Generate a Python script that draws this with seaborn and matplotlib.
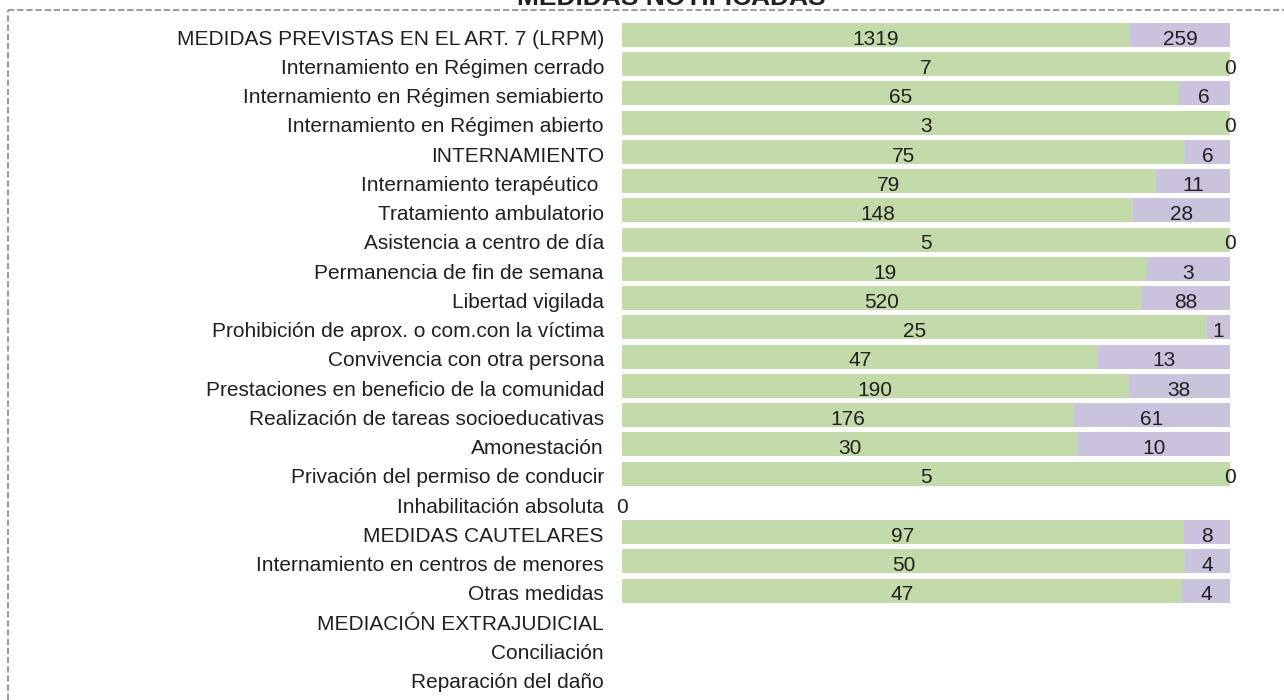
import matplotlib
matplotlib.use('Agg')
import matplotlib.pyplot as plt
from matplotlib.lines import Line2D
from matplotlib.transforms import ScaledTranslation
import seaborn as sns
import pandas as pd
import numpy as np

# data
medidas = [
    'MEDIDAS PREVISTAS EN EL ART. 7 (LRPM)',
    'Internamiento en Régimen cerrado',
    'Internamiento en Régimen semiabierto',
    'Internamiento en Régimen abierto',
    'INTERNAMIENTO',
    'Internamiento terapéutico ',
    'Tratamiento ambulatorio',
    'Asistencia a centro de día',
    'Permanencia de fin de semana',
    'Libertad vigilada',
    'Prohibición de aprox. o com.con la víctima',
    'Convivencia con otra persona',
    'Prestaciones en beneficio de la comunidad',
    'Realización de tareas socioeducativas',
    'Amonestación',
    'Privación del permiso de conducir',
    'Inhabilitación absoluta',
    'MEDIDAS CAUTELARES',
    'Internamiento en centros de menores',
    'Otras medidas',
    'MEDIACIÓN EXTRAJUDICIAL',
    'Conciliación',
    'Reparación del daño',
]
serie_verde = [1319, 7, 65, 3, 75, 79, 148, 5, 19, 520, 25, 47, 190, 176, 30, 5, 0,
               97, 50, 47, np.nan, np.nan, np.nan]
serie_morada = [259, 0, 6, 0, 6, 11, 28, 0, 3, 88, 1, 13, 38, 61, 10, 0, 0,
                8, 4, 4, np.nan, np.nan, np.nan]

VERDE = '#c3daaa'
MORADO = '#cbc2de'
TEXTO = '#231f20'
FS = 15

df = pd.DataFrame({'medida': medidas, 'verde': serie_verde, 'morado': serie_morada})
df['total'] = df['verde'] + df['morado']
df['p_verde'] = df['verde'] / df['total'].replace(0, np.nan)
df['p_total'] = df['total'] / df['total'].replace(0, np.nan)

sns.set_theme(style='white')
plt.rcParams['font.family'] = ['Liberation Sans', 'DejaVu Sans']

fig = plt.figure(figsize=(12.84, 7), dpi=100)
ax = fig.add_axes([622 / 1284, 0.0099, (1230 - 622) / 1284, 0.961])

# 100% stacked bars: purple full length underneath, green share on top
sns.barplot(data=df, x='p_total', y='medida', order=medidas, color=MORADO,
            width=0.82, errorbar=None, saturation=1, edgecolor='none', ax=ax)
sns.barplot(data=df, x='p_verde', y='medida', order=medidas, color=VERDE,
            width=0.82, errorbar=None, saturation=1, edgecolor='none', ax=ax)

# text baseline sits a bit below the row centre
bajar = ScaledTranslation(0, -6.9 / 72, fig.dpi_scale_trans)
for i, row in df.iterrows():
    if np.isnan(row['total']):
        continue
    if row['total'] == 0:
        ax.text(0, i, '0', ha='center', va='baseline', fontsize=FS, color=TEXTO,
                transform=ax.transData + bajar)
        continue
    pv = row['p_verde']
    ax.text(pv / 2, i, f"{int(row['verde'])}", ha='center', va='baseline',
            fontsize=FS, color=TEXTO, transform=ax.transData + bajar)
    ax.text((pv + 1) / 2, i, f"{int(row['morado'])}", ha='center', va='baseline',
            fontsize=FS, color=TEXTO, transform=ax.transData + bajar)

ax.set_xlim(0, 1)
ax.set_ylim(len(medidas) - 0.5, -0.5)
ax.set_xlabel('')
ax.set_ylabel('')
ax.set_xticks([])
ax.tick_params(axis='y', length=0, pad=13, labelsize=FS, labelcolor=TEXTO)
for lab in ax.get_yticklabels():
    lab.set_va('baseline')
    lab.set_transform(lab.get_transform() + bajar)
sns.despine(ax=ax, left=True, bottom=True)

# dashed frame, only top and left edges are visible
W, H = 1284, 700
borde = dict(color='#9d9d9e', lw=1.5, linestyle=(0, (3, 1.4)), transform=fig.transFigure)
fig.add_artist(Line2D([8 / W, 1], [1 - 10 / H, 1 - 10 / H], **borde))
fig.add_artist(Line2D([8 / W, 8 / W], [0, 1 - 10 / H], **borde))

fig.text(671 / W, 1 - 5 / H, 'MEDIDAS NOTIFICADAS', ha='center', va='baseline',
         fontsize=19, fontweight='bold', color=TEXTO)

plt.savefig('out.png', dpi=100)
plt.close()
